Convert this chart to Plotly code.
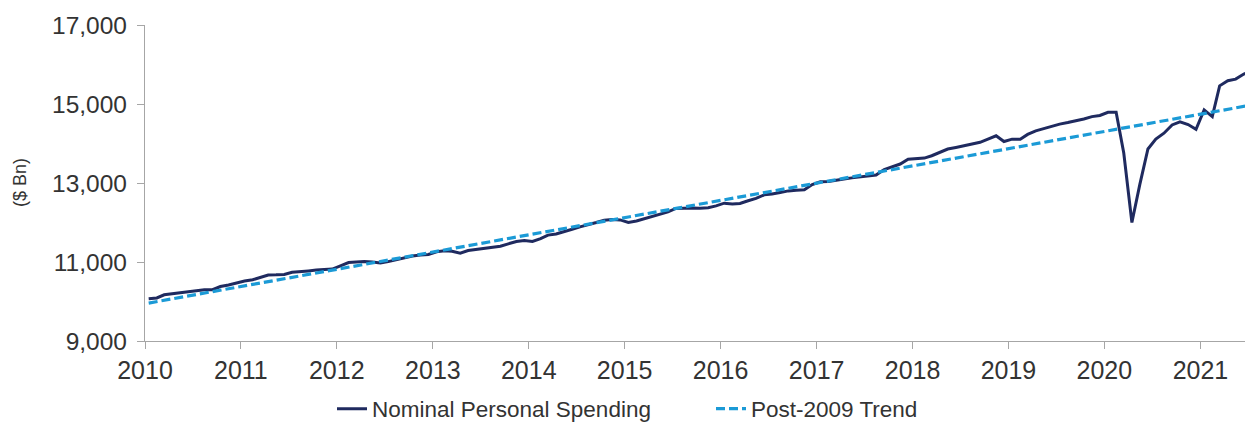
import pandas as pd
import plotly.graph_objects as go

# Monthly nominal personal spending ($ Bn, SAAR), Jan 2010 - Jul 2021
spend_2010 = [10070, 10090, 10170, 10195, 10215, 10240, 10265, 10300, 10300, 10380, 10420, 10470]
spend_2011 = [10520, 10550, 10600, 10670, 10675, 10685, 10740, 10750, 10775, 10795, 10810, 10820]
spend_2012 = [10900, 10985, 11000, 11010, 11000, 10975, 11010, 11060, 11110, 11150, 11175, 11190]
spend_2013 = [11260, 11285, 11270, 11225, 11290, 11320, 11340, 11380, 11400, 11460, 11520, 11545]
spend_2014 = [11520, 11590, 11680, 11710, 11760, 11830, 11890, 11940, 12000, 12060, 12075, 12065]
spend_2015 = [12000, 12040, 12090, 12160, 12210, 12270, 12355, 12365, 12365, 12360, 12375, 12420]
spend_2016 = [12490, 12470, 12480, 12550, 12610, 12700, 12720, 12760, 12800, 12815, 12830, 12960]
spend_2017 = [13030, 13040, 13060, 13100, 13130, 13150, 13170, 13200, 13340, 13400, 13480, 13600]
spend_2018 = [13615, 13630, 13690, 13770, 13860, 13900, 13940, 13990, 14030, 14110, 14195, 14050]
spend_2019 = [14110, 14110, 14230, 14320, 14380, 14430, 14490, 14530, 14570, 14620, 14680, 14710]
spend_2020 = [14790, 14790, 13760, 12000, 12960, 13860, 14110, 14260, 14470, 14550, 14480, 14360]
spend_2021 = [14850, 14680, 15460, 15590, 15630, 15760, 15835]

spending = (spend_2010 + spend_2011 + spend_2012 + spend_2013 + spend_2014 + spend_2015
            + spend_2016 + spend_2017 + spend_2018 + spend_2019 + spend_2020 + spend_2021)
months = pd.date_range("2010-01-01", periods=len(spending), freq="MS") + pd.Timedelta(days=14)

# Post-2009 linear trend, read at January of each year and at the last month
trend_dates = ["2010-01-15", "2011-01-15", "2012-01-15", "2013-01-15", "2014-01-15", "2015-01-15",
               "2016-01-15", "2017-01-15", "2018-01-15", "2019-01-15", "2020-01-15", "2021-01-15",
               "2021-07-15"]
trend_values = [9960, 10400, 10835, 11270, 11705, 12140, 12575, 13010, 13450, 13885, 14320, 14755, 14975]

y_ticks = [9000, 11000, 13000, 15000, 17000]

NAVY = "#1f2a5f"
BLUE = "#1b9ad6"
AXIS = "#a6a6a6"
TEXT = "#333333"
FONT = "Liberation Sans, Arial, sans-serif"

# The page body has an 8px margin, so the figure is sized to fit inside the window.
W, H = 1245, 414

fig = go.Figure()
fig.add_trace(go.Scatter(
    x=months, y=spending, mode="lines", name="Nominal Personal Spending",
    line=dict(color=NAVY, width=3),
))
fig.add_trace(go.Scatter(
    x=pd.to_datetime(trend_dates), y=trend_values, mode="lines", name="Post-2009 Trend",
    line=dict(color=BLUE, width=3.2, dash="9px,4px"),
))

fig.update_layout(
    width=W, height=H,
    margin=dict(l=137, r=0, t=17, b=81, autoexpand=False),
    paper_bgcolor="white", plot_bgcolor="white",
    font=dict(family=FONT, color=TEXT),
    showlegend=True,
    legend=dict(
        orientation="h", xref="container", yref="container",
        x=324 / W, xanchor="left", y=1 - 401 / H, yanchor="middle",
        font=dict(family=FONT, size=22.5, color=TEXT),
        entrywidth=334, entrywidthmode="pixels",
    ),
    annotations=[dict(
        text="($ Bn)", xref="paper", yref="paper", x=-125 / 1108, y=0.5,
        xanchor="center", yanchor="middle", textangle=-90, showarrow=False,
        font=dict(size=18, color=TEXT),
    )],
)

fig.update_xaxes(
    type="date", range=["2010-01-01", "2021-07-20"],
    tick0="2010-01-01", dtick="M12", tickformat="%Y",
    ticks="outside", ticklen=7, tickcolor=AXIS, tickwidth=1.3,
    showline=True, linecolor=AXIS, linewidth=1.3,
    showgrid=False, zeroline=False,
    tickfont=dict(size=25, color=TEXT),
)
fig.update_yaxes(
    range=[9000, 17000], tickvals=y_ticks, tickformat=",d",
    ticks="outside", ticklen=7, tickcolor=AXIS, tickwidth=1.3,
    showline=True, linecolor=AXIS, linewidth=1.3,
    showgrid=False, zeroline=False,
    tickfont=dict(size=24.5, color=TEXT), ticklabelstandoff=5,
)

fig.write_html("out.html")
